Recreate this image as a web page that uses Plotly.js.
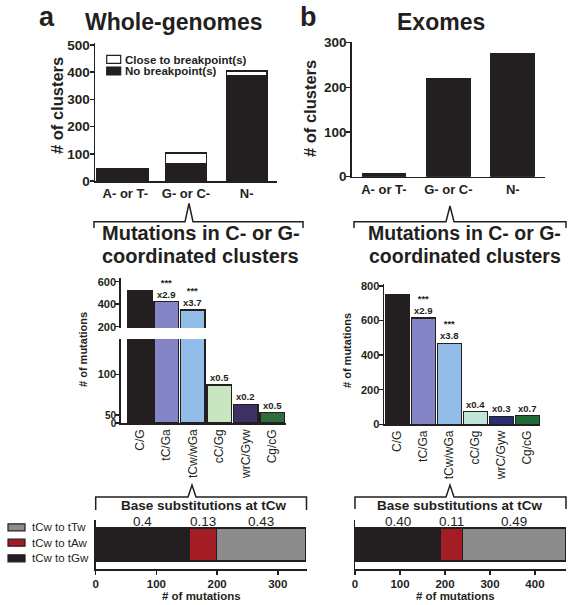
<!DOCTYPE html>
<html><head><meta charset="utf-8">
<script src="https://cdn.plot.ly/plotly-3.0.1.min.js"></script>
<style>html,body{margin:0;padding:0;background:#fff;}</style>
</head><body>
<div id="chart" style="width:570px;height:605px;"></div>
<script>
// ---------------- data ----------------
const clusterCats = ['A- or T-', 'G- or C-', 'N-'];
const wgNoBreak = [44, 65, 387];
const wgCloseBreak = [0, 37, 17];
const exomeClusters = [7.5, 219, 274];
const seriesNames = ['No breakpoint(s)', 'Close to breakpoint(s)'];

const motifCats = ['C/G', 'tC/Ga', 'tCw/wGa', 'cC/Gg', 'wrC/Gyw', 'Cg/cG'];
const wgMutations = [520, 423, 349, 87, 63, 53];
const wgFold = ['', 'x2.9', 'x3.7', 'x0.5', 'x0.2', 'x0.5'];
const wgSig = ['', '***', '***', '', '', ''];
const exMutations = [748, 615, 468, 73, 46, 50];
const exFold = ['', 'x2.9', 'x3.8', 'x0.4', 'x0.3', 'x0.7'];
const exSig = ['', '***', '***', '', '', ''];

const substNames = ['tCw to tGw', 'tCw to tAw', 'tCw to tTw'];
const wgSubst = [154, 45, 147];
const exSubst = [189, 50, 229];
const wgFrac = ['0.4', '0.13', '0.43'];
const exFrac = ['0.40', '0.11', '0.49'];

// ---------------- styling ----------------
const W = 570, H = 605;
const K = '#231f20';
const FONT = 'Liberation Sans, Arial, Helvetica, sans-serif';
const colorsA = ['#231f20', '#8485c7', '#92bde9', '#c9e6c3', '#3d3063', '#2f6b3c'];
const colorsB = ['#231f20', '#8485c7', '#92bde9', '#bfe6d6', '#272f72', '#1f6b36'];
const substColors = ['#231f20', '#a51d24', '#8c8c8c'];
const px = x => x / W;
const py = y => 1 - y / H;
const dX = (a, b) => [px(a), px(b)];
const dY = (top, bottom) => [py(bottom), py(top)];

const axBase = {showgrid:false, zeroline:false, showline:true, linecolor:K, linewidth:1.5,
  fixedrange:true, tickcolor:K, tickwidth:1.5, ticklen:4, ticks:'outside'};
const boldTick = s => ({family:FONT, size:s, color:K, weight:'bold'});
const outline = {color:K, width:1.5};

const traces = [];
// top a (stacked)
traces.push({type:'bar', x:clusterCats, y:wgNoBreak, name:seriesNames[0], xaxis:'x', yaxis:'y',
  marker:{color:K, line:outline}, width:[0.84,0.67,0.67], offset:[-0.47,-0.335,-0.335], showlegend:false, hoverinfo:'skip'});
traces.push({type:'bar', x:clusterCats, y:wgCloseBreak, name:seriesNames[1], xaxis:'x', yaxis:'y',
  marker:{color:'#ffffff', line:outline}, width:[0.84,0.67,0.67], offset:[-0.47,-0.335,-0.335], showlegend:false, hoverinfo:'skip'});
// top b
traces.push({type:'bar', x:clusterCats, y:exomeClusters, xaxis:'x2', yaxis:'y2', width:0.67,
  marker:{color:K, line:outline}, showlegend:false, hoverinfo:'skip'});
// middle a, broken axis: three segments
['y3','y4','y5'].forEach(ya => traces.push({type:'bar', x:motifCats, y:wgMutations, xaxis:'x3', yaxis:ya,
  width:0.94, marker:{color:colorsA, line:outline}, showlegend:false, hoverinfo:'skip'}));
// middle b
traces.push({type:'bar', x:motifCats, y:exMutations, xaxis:'x4', yaxis:'y6', width:0.94,
  marker:{color:colorsB, line:outline}, showlegend:false, hoverinfo:'skip'});
// bottom stacked horizontal
substNames.forEach((n, i) => {
  traces.push({type:'bar', orientation:'h', x:[wgSubst[i]], y:['tCw'], name:n, xaxis:'x5', yaxis:'y7',
    width:0.673, marker:{color:substColors[i], line:outline}, showlegend:false, hoverinfo:'skip'});
  traces.push({type:'bar', orientation:'h', x:[exSubst[i]], y:['tCw'], name:n, xaxis:'x6', yaxis:'y8',
    width:0.673, marker:{color:substColors[i], line:outline}, showlegend:false, hoverinfo:'skip'});
});

const layout = {
  width:W, height:H, margin:{l:0,r:0,t:0,b:0}, paper_bgcolor:'#fff', plot_bgcolor:'rgba(0,0,0,0)',
  barmode:'stack', showlegend:false, font:{family:FONT, color:K},
  xaxis: Object.assign({}, axBase, {domain:dX(95,277), range:[-0.5,2.5], anchor:'y', ticks:'',
    tickfont:boldTick(13)}),
  yaxis: Object.assign({}, axBase, {domain:dY(43,181), range:[0,507], anchor:'x', ticklabelstandoff:-3,
    tickvals:[0,100,200,300,400,500], tickfont:boldTick(13.5)}),
  xaxis2: Object.assign({}, axBase, {domain:dX(351.7,545), range:[-0.5,2.5], anchor:'y2', ticks:'',
    tickfont:boldTick(13)}),
  yaxis2: Object.assign({}, axBase, {domain:dY(41.7,176.7), range:[0,302], anchor:'x2', ticklabelstandoff:-3,
    tickvals:[0,100,200,300], tickfont:boldTick(13.5)}),
  xaxis3: Object.assign({}, axBase, {domain:dX(120.7,286), range:[-0.72,5.52], anchor:'y5', ticks:'',
    tickangle:-90, tickfont:{family:FONT, size:12, color:K}}),
  yaxis3: Object.assign({}, axBase, {domain:dY(278,328), range:[188,633], anchor:'x3', ticklabelstandoff:-3,
    tickvals:[200,400,600], tickfont:boldTick(11)}),
  yaxis4: Object.assign({}, axBase, {domain:dY(339,415), range:[50,143.5], anchor:'x3', ticklabelstandoff:-3,
    tickvals:[100], tickfont:boldTick(11)}),
  yaxis5: Object.assign({}, axBase, {domain:dY(415,423), range:[0,50], anchor:'x3', ticklabelstandoff:-3,
    tickvals:[0,50], tickfont:boldTick(10)}),
  xaxis4: Object.assign({}, axBase, {domain:dX(384,540), range:[-0.52,5.48], anchor:'y6', ticks:'',
    tickangle:-90, tickfont:{family:FONT, size:12, color:K}}),
  yaxis6: Object.assign({}, axBase, {domain:dY(284.3,424.3), range:[0,810], anchor:'x4', ticklabelstandoff:-3,
    tickvals:[0,200,400,600,800], tickfont:boldTick(11)}),
  xaxis5: Object.assign({}, axBase, {domain:dX(95.7,306.5), range:[0,347.3], anchor:'y7',
    tickvals:[0,100,200,300], tickfont:boldTick(11.5)}),
  yaxis7: Object.assign({}, axBase, {domain:dY(520,569), range:[-0.5,0.5], anchor:'x5', type:'category',
    ticks:'', showticklabels:false}),
  xaxis6: Object.assign({}, axBase, {domain:dX(355,566), range:[0,469], anchor:'y8',
    tickvals:[0,100,200,300,400], tickfont:boldTick(11.5)}),
  yaxis8: Object.assign({}, axBase, {domain:dY(520,569), range:[-0.5,0.5], anchor:'x6', type:'category',
    ticks:'', showticklabels:false}),
  annotations:[], shapes:[]
};

function ann(text, x, y, size, o) {
  layout.annotations.push(Object.assign({text:text, x:px(x), y:py(y), xref:'paper', yref:'paper',
    showarrow:false, xanchor:'center', yanchor:'middle', font:{family:FONT, size:size, color:K}}, o || {}));
}
// titles
ann('<b>a</b>', 47, 17, 27);
ann('<b>b</b>', 308, 17, 27);
ann('<b>Whole-genomes</b>', 174, 22, 23);
ann('<b>Exomes</b>', 441, 22, 23);
ann('<b># of clusters</b>', 57, 106, 16.5, {textangle:-90});
ann('<b># of clusters</b>', 310, 109, 16.5, {textangle:-90});
ann('<b>Mutations in C- or G-</b>', 201, 233, 20);
ann('<b>coordinated clusters</b>', 200, 256, 20);
ann('<b>Mutations in C- or G-</b>', 464.5, 233, 19.5);
ann('<b>coordinated clusters</b>', 464.5, 256, 19.5);
ann('<b># of mutations</b>', 83, 350, 11, {textangle:-90});
ann('<b># of mutations</b>', 347, 351, 11, {textangle:-90});
ann('<b>Base substitutions at tCw</b>', 204, 506, 13.5);
ann('<b>Base substitutions at tCw</b>', 460, 506, 13.5);
ann('<b># of mutations</b>', 201, 596, 11.5);
ann('<b># of mutations</b>', 455, 596, 11.5);

// fold-change labels over bars (significance stars stacked above)
function foldLabels(vals, folds, sigs, xref, pickY) {
  vals.forEach((v, i) => {
    if (!folds[i]) return;
    const txt = (sigs[i] ? '<b>' + sigs[i] + '</b><br>' : '') + '<b>' + folds[i] + '</b>';
    layout.annotations.push({text:txt, x:i, y:v, xref:xref, yref:pickY(v),
      showarrow:false, xanchor:'center', yanchor:'bottom', yshift:1, borderpad:0,
      font:{family:FONT, size:9.5, color:K}});
  });
}
foldLabels(wgMutations, wgFold, wgSig, 'x3', v => v > 160 ? 'y3' : 'y4');
foldLabels(exMutations, exFold, exSig, 'x4', v => 'y6');

// fraction labels centred over segments
function fracLabels(vals, fr, xref) {
  let c = 0;
  vals.forEach((v, i) => {
    layout.annotations.push({text:fr[i], x:c + v/2, y:py(521), xref:xref, yref:'paper', showarrow:false,
      xanchor:'center', yanchor:'middle', font:{family:FONT, size:13.5, color:K}});
    c += v;
  });
}
fracLabels(wgSubst, wgFrac, 'x5');
fracLabels(exSubst, exFrac, 'x6');

// braces
function pathOf(pts) { return 'M' + pts.map(p => px(p[0]).toFixed(5) + ',' + py(p[1]).toFixed(5)).join('L'); }
[
  [[94,228],[94,221.7],[185,221.7],[189,203.5],[193,221.7],[303,221.7],[303,228]],
  [[354,228],[354,221.7],[446,221.7],[450,206],[454,221.7],[566,221.7],[566,228]],
  [[95.7,510],[95.7,497],[188,497],[192,485],[196,497],[306.5,497],[306.5,510]],
  [[355,509],[355,497],[446,497],[450,485],[454,497],[566,497],[566,509]]
].forEach(p => layout.shapes.push({type:'path', xref:'paper', yref:'paper', path:pathOf(p),
  line:{color:K, width:1.5}}));

// legend (panel a, top)
function legendBox(x0, x1, yc, h, color) {
  layout.shapes.push({type:'rect', xref:'paper', yref:'paper', x0:px(x0), x1:px(x1),
    y0:py(yc + h/2), y1:py(yc - h/2), fillcolor:color, line:{color:K, width:1.2}});
}
legendBox(106.7, 120.7, 59.3, 8, '#ffffff');
legendBox(106.7, 120.7, 71, 8, K);
ann('<b>'+seriesNames[1]+'</b>', 123, 60, 11.5, {xanchor:'left'});
ann('<b>'+seriesNames[0]+'</b>', 123, 71.5, 11.5, {xanchor:'left'});
// legend (bottom left) – top to bottom: tTw, tAw, tGw
[2,1,0].forEach((k, r) => {
  const yc = [527.3, 542.7, 558.3][r];
  legendBox(8, 25, yc, 7, substColors[k]);
  ann(substNames[k], 30, yc, 11.5, {xanchor:'left'});
});

Plotly.newPlot('chart', traces, layout, {staticPlot:true, displayModeBar:false});
</script>
</body></html>
